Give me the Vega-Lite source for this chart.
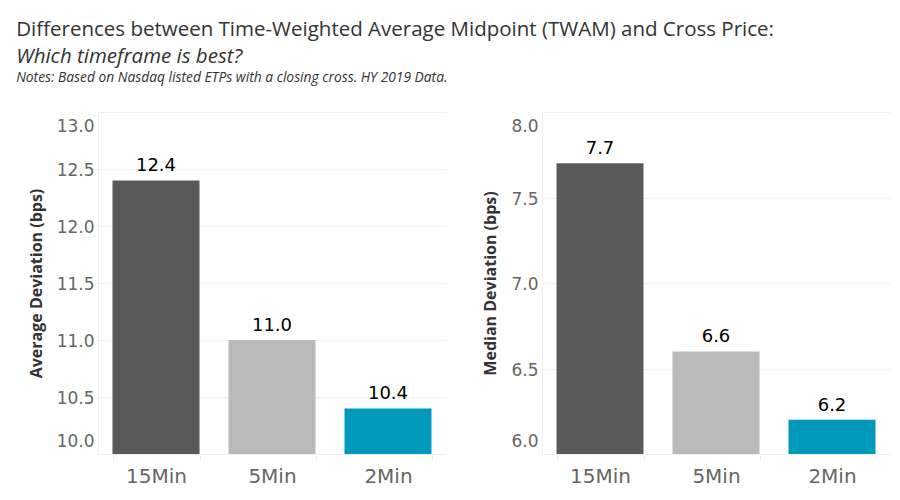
{
  "$schema": "https://vega.github.io/schema/vega-lite/v6.json",
  "background": "white",
  "padding": {"left": 16, "top": 20, "right": 5, "bottom": 5},
  "datasets": {
    "twam": [
      {"Timeframe": "15Min", "Average": 12.4, "Median": 7.7},
      {"Timeframe": "5Min", "Average": 11.0, "Median": 6.6},
      {"Timeframe": "2Min", "Average": 10.4, "Median": 6.2}
    ]
  },
  "title": {
    "text": "Differences between Time-Weighted Average Midpoint (TWAM) and Cross Price:",
    "subtitle": "Which timeframe is best?",
    "anchor": "start",
    "frame": "bounds",
    "dx": 0,
    "fontSize": 20.5,
    "fontWeight": "normal",
    "color": "#333333",
    "subtitleFontSize": 20.5,
    "subtitleFontStyle": "italic",
    "subtitleColor": "#333333",
    "subtitlePadding": 6,
    "offset": 4
  },
  "vconcat": [
    {
      "title": {
        "text": "Notes: Based on Nasdaq listed ETPs with a closing cross. HY 2019 Data.",
        "anchor": "start",
        "frame": "bounds",
        "dx": -12,
        "fontSize": 13.8,
        "fontStyle": "italic",
        "fontWeight": "normal",
        "color": "#333333",
        "offset": 27
      },
      "spacing": 36,
      "hconcat": [
        {
          "width": 348,
          "height": 342,
          "data": {"name": "twam"},
          "encoding": {
            "x": {
              "field": "Timeframe",
              "type": "nominal",
              "sort": ["15Min", "5Min", "2Min"],
              "scale": {"paddingInner": 0.25, "paddingOuter": 0.125},
              "axis": {"title": null}
            },
            "y": {
              "field": "Average",
              "type": "quantitative",
              "scale": {"domain": [10, 13], "zero": false, "nice": false},
              "axis": {
                "title": "Average Deviation (bps)",
                "values": [10, 10.5, 11, 11.5, 12, 12.5, 13],
                "format": ".1f"
              }
            }
          },
          "layer": [
            {
              "mark": {"type": "bar"},
              "encoding": {
                "y2": {"datum": 10},
                "color": {
                  "field": "Timeframe",
                  "type": "nominal",
                  "scale": {"domain": ["15Min", "5Min", "2Min"], "range": ["#595959", "#bababa", "#0099ba"]},
                  "legend": null
                }
              }
            },
            {
              "mark": {"type": "text", "baseline": "alphabetic", "dy": -9, "fontSize": 18, "font": "DejaVu Sans", "color": "black"},
              "encoding": {"text": {"field": "Average", "type": "quantitative", "format": ".1f"}}
            }
          ]
        },
        {
          "width": 348,
          "height": 342,
          "data": {"name": "twam"},
          "encoding": {
            "x": {
              "field": "Timeframe",
              "type": "nominal",
              "sort": ["15Min", "5Min", "2Min"],
              "scale": {"paddingInner": 0.25, "paddingOuter": 0.125},
              "axis": {"title": null}
            },
            "y": {
              "field": "Median",
              "type": "quantitative",
              "scale": {"domain": [6, 8], "zero": false, "nice": false},
              "axis": {
                "title": "Median Deviation (bps)",
                "values": [6, 6.5, 7, 7.5, 8],
                "format": ".1f"
              }
            }
          },
          "layer": [
            {
              "mark": {"type": "bar"},
              "encoding": {
                "y2": {"datum": 6},
                "color": {
                  "field": "Timeframe",
                  "type": "nominal",
                  "scale": {"domain": ["15Min", "5Min", "2Min"], "range": ["#595959", "#bababa", "#0099ba"]},
                  "legend": null
                }
              }
            },
            {
              "mark": {"type": "text", "baseline": "alphabetic", "dy": -9, "fontSize": 18, "font": "DejaVu Sans", "color": "black"},
              "encoding": {"text": {"field": "Median", "type": "quantitative", "format": ".1f"}}
            }
          ]
        }
      ]
    }
  ],
  "config": {
    "font": "Open Sans",
    "view": {"stroke": null},
    "axisX": {
      "labelAngle": 0,
      "labelFont": "DejaVu Sans",
      "labelFontSize": 20,
      "labelColor": "#666666",
      "labelPadding": 5,
      "domainColor": "#eeeeee",
      "tickColor": "#eeeeee",
      "tickBand": "extent",
      "tickSize": 7,
      "grid": false
    },
    "axisY": {
      "labelFont": "DejaVu Sans",
      "labelFontSize": 17,
      "labelColor": "#666666",
      "labelPadding": 4,
      "labelFlush": true,
      "labelFlushOffset": -5,
      "labelOffset": 1.5,
      "ticks": false,
      "domainColor": "#eeeeee",
      "gridColor": "#f2f2f2",
      "titleFontSize": 16,
      "titleFontWeight": "bold",
      "titleColor": "#333333",
      "titlePadding": 12
    }
  }
}
